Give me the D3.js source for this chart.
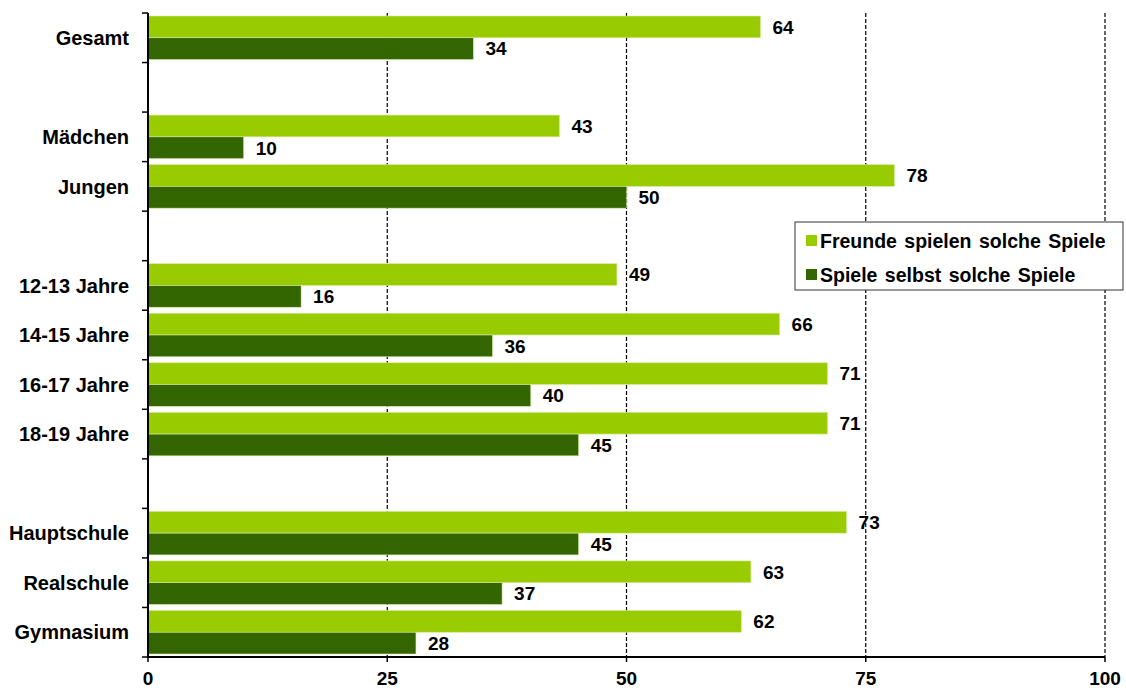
<!DOCTYPE html>
<html>
<head>
<meta charset="utf-8">
<script src="https://cdn.jsdelivr.net/npm/d3@7"></script>
<style>
  body { margin: 0; background: #fff; }
  text { font-family: "Liberation Sans", Arial, sans-serif; font-weight: bold; fill: #000; }
</style>
</head>
<body>
<div id="chart"></div>
<script>
// categories, "" = empty spacer slot
const categories = ["Gesamt", "", "Mädchen", "Jungen", "", "12-13 Jahre", "14-15 Jahre", "16-17 Jahre", "18-19 Jahre", "", "Hauptschule", "Realschule", "Gymnasium"];
const freunde = [64, null, 43, 78, null, 49, 66, 71, 71, null, 73, 63, 62];
const selbst  = [34, null, 10, 50, null, 16, 36, 40, 45, null, 45, 37, 28];
const seriesNames = ["Freunde spielen solche Spiele", "Spiele selbst solche Spiele"];
const colors = ["#99cc00", "#336600"];
const xTicks = [0, 25, 50, 75, 100];

const width = 1126, height = 688;
const margin = {top: 13, left: 148, right: 21, bottom: 31};
const FONT = 19;

const svg = d3.select("#chart").append("svg")
    .attr("width", width)
    .attr("height", height);

const x = d3.scaleLinear().domain([0, 100]).range([margin.left, width - margin.right]);
const y = d3.scaleBand().domain(d3.range(categories.length))
    .range([margin.top, height - margin.bottom]).paddingInner(0).paddingOuter(0);
const bandH = y.bandwidth();
const pad = 3;
const barH = (bandH - 2 * pad) / 2;

// dashed grid lines
svg.append("g").selectAll("line")
    .data(xTicks.slice(1))
    .join("line")
    .attr("x1", d => x(d)).attr("x2", d => x(d))
    .attr("y1", margin.top).attr("y2", height - margin.bottom)
    .attr("stroke", "#000")
    .attr("stroke-width", 1.2)
    .attr("stroke-dasharray", "4,2");

// bars + value labels
const series = [freunde, selbst];
series.forEach(function(vals, s) {
    const rows = vals.map((v, i) => ({v: v, i: i})).filter(d => d.v != null);
    svg.append("g").selectAll("rect")
        .data(rows)
        .join("rect")
        .attr("x", x(0))
        .attr("y", d => y(d.i) + pad + s * barH)
        .attr("width", d => x(d.v) - x(0))
        .attr("height", barH)
        .attr("fill", colors[s])
        .attr("stroke", "#d6eba0")
        .attr("stroke-width", 0.6);

    svg.append("g").selectAll("text")
        .data(rows)
        .join("text")
        .attr("x", d => x(d.v) + 12)
        .attr("y", d => y(d.i) + pad + s * barH + barH / 2)
        .attr("dy", "0.36em")
        .attr("font-size", FONT)
        .text(d => d.v);
});

// y axis
const yAxis = svg.append("g");
yAxis.append("line")
    .attr("x1", margin.left).attr("x2", margin.left)
    .attr("y1", margin.top).attr("y2", height - margin.bottom)
    .attr("stroke", "#000").attr("stroke-width", 2);
yAxis.selectAll("line.tick")
    .data(d3.range(categories.length + 1))
    .join("line")
    .attr("class", "tick")
    .attr("x1", margin.left - 6).attr("x2", margin.left)
    .attr("y1", d => margin.top + d * bandH)
    .attr("y2", d => margin.top + d * bandH)
    .attr("stroke", "#000").attr("stroke-width", 1.5);
yAxis.selectAll("text")
    .data(categories)
    .join("text")
    .attr("x", 129)
    .attr("y", (d, i) => y(i) + bandH / 2)
    .attr("dy", "0.36em")
    .attr("text-anchor", "end")
    .attr("font-size", 20)
    .text(d => d);

// x axis
const xAxis = svg.append("g");
xAxis.append("line")
    .attr("x1", x(0) - 1).attr("x2", x(100))
    .attr("y1", height - margin.bottom).attr("y2", height - margin.bottom)
    .attr("stroke", "#000").attr("stroke-width", 2);
xAxis.selectAll("line.tick")
    .data(xTicks)
    .join("line")
    .attr("class", "tick")
    .attr("x1", d => x(d)).attr("x2", d => x(d))
    .attr("y1", height - margin.bottom).attr("y2", height - margin.bottom + 5)
    .attr("stroke", "#000").attr("stroke-width", 1.5);
xAxis.selectAll("text")
    .data(xTicks)
    .join("text")
    .attr("x", d => x(d))
    .attr("y", 678)
    .attr("dy", "0.36em")
    .attr("text-anchor", "middle")
    .attr("font-size", FONT)
    .text(d => d);

// legend
const legend = svg.append("g").attr("transform", "translate(795,222)");
legend.append("rect")
    .attr("width", 328).attr("height", 68)
    .attr("fill", "#fff")
    .attr("stroke", "#333").attr("stroke-width", 1);
seriesNames.forEach(function(name, i) {
    legend.append("rect")
        .attr("x", 11).attr("y", 13 + i * 34)
        .attr("width", 11).attr("height", 11)
        .attr("fill", colors[i]);
    legend.append("text")
        .attr("x", 25).attr("y", 19 + i * 34)
        .attr("dy", "0.36em")
        .attr("font-size", 19.5)
        .attr("word-spacing", 2)
        .text(name);
});
</script>
</body>
</html>
